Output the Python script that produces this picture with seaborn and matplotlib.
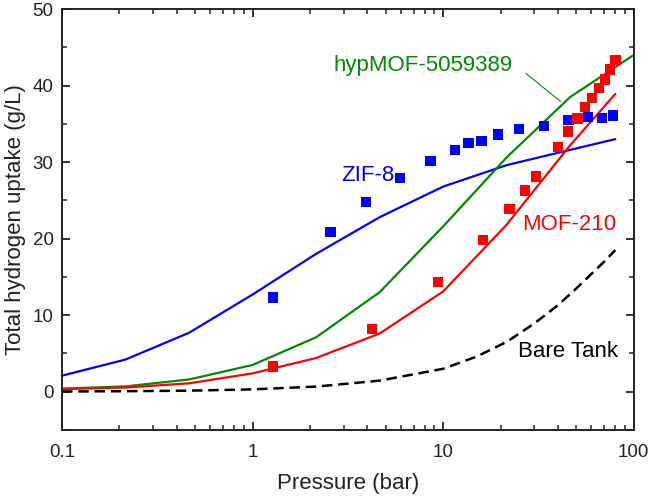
import numpy as np
import pandas as pd
import matplotlib
matplotlib.use("Agg")
import matplotlib.pyplot as plt
import seaborn as sns
from matplotlib.ticker import LogLocator, MultipleLocator, FixedLocator, FixedFormatter

# simulated isotherms (lines)
sim_p = [0.1, 0.215, 0.464, 1, 2.15, 4.64, 10, 21.5, 46.4, 80]
sim_p_hyp = [0.1, 0.215, 0.464, 1, 2.15, 4.64, 10, 21.5, 46.4, 100]
zif8_sim = [2.1, 4.2, 7.7, 12.7, 18.0, 22.8, 26.8, 29.6, 31.6, 33.0]
mof210_sim = [0.35, 0.55, 1.1, 2.4, 4.4, 7.6, 13.1, 21.8, 32.2, 38.9]
hypmof_sim = [0.4, 0.7, 1.6, 3.5, 7.1, 13.0, 21.6, 30.6, 38.5, 44.0]

# bare tank (compressed gas only)
tank_p = [0.1, 0.215, 0.464, 1, 2.15, 4.64, 10, 15, 21.5, 30, 40, 50, 60, 70, 80]
tank_h2 = [0.03, 0.07, 0.14, 0.31, 0.67, 1.45, 3.0, 4.6, 6.5, 8.9, 11.3, 13.5, 15.4, 17.0, 18.5]

# experimental points (squares)
zif8_p = [1.28, 2.56, 3.93, 5.92, 8.57, 11.5, 13.6, 15.9, 19.4, 24.9, 33.8, 45.4, 57.3, 68.1, 77.8]
zif8_h2 = [12.3, 20.9, 24.8, 27.9, 30.1, 31.6, 32.5, 32.8, 33.6, 34.3, 34.7, 35.5, 35.9, 35.8, 36.1]
mof210_p = [1.28, 4.24, 9.4, 16.2, 22.3, 26.8, 30.8, 40.0, 45.2, 50.6, 55.7, 60.6, 65.7, 70.4, 75.3, 80.3]
mof210_h2 = [3.3, 8.2, 14.3, 19.8, 23.9, 26.3, 28.1, 32.0, 34.0, 35.7, 37.2, 38.4, 39.7, 40.8, 42.1, 43.3]

blue = "#0000ff"
red = "#ff0000"
green = "#008a00"

sns.set_style("ticks")
plt.rcParams["font.family"] = ["Liberation Sans", "DejaVu Sans"]

fig = plt.figure(figsize=(6.5, 5.01), dpi=100)
ax = fig.add_axes([0.0954, 0.1417, 0.8796, 0.8403])

sns.lineplot(x=sim_p, y=zif8_sim, color=blue, lw=1.6, ax=ax, sort=False)
sns.lineplot(x=sim_p_hyp, y=hypmof_sim, color=green, lw=1.6, ax=ax, sort=False)
sns.lineplot(x=sim_p, y=mof210_sim, color=red, lw=1.6, ax=ax, sort=False)
ax.plot(tank_p, tank_h2, color="black", lw=1.8, linestyle=(0, (4.2, 2.3)))

sns.scatterplot(x=zif8_p, y=zif8_h2, color=blue, marker="s", s=55,
                edgecolor="none", ax=ax, zorder=3)
sns.scatterplot(x=mof210_p, y=mof210_h2, color=red, marker="s", s=55,
                edgecolor="none", ax=ax, zorder=3)

ax.set_xscale("log")
ax.set_xlim(0.1, 100)
ax.set_ylim(-5, 50)

ax.xaxis.set_major_locator(FixedLocator([0.1, 1, 10, 100]))
ax.xaxis.set_major_formatter(FixedFormatter(["0.1", "1", "10", "100"]))
ax.xaxis.set_minor_locator(LogLocator(base=10, subs=np.arange(2, 10)))
ax.xaxis.set_minor_formatter(plt.NullFormatter())
ax.yaxis.set_major_locator(FixedLocator([0, 10, 20, 30, 40, 50]))
ax.yaxis.set_minor_locator(MultipleLocator(5))

ax.tick_params(which="both", direction="in", top=True, right=True,
               color="#222222", labelsize=13.5, labelcolor="#222222")
ax.tick_params(which="major", length=6, width=1.3)
ax.tick_params(axis="x", which="major", pad=10)
ax.tick_params(axis="y", which="major", pad=6)
ax.tick_params(which="minor", length=3.5, width=1.1)
for sp in ax.spines.values():
    sp.set_linewidth(1.4)
    sp.set_color("#222222")

ax.set_xlabel("Pressure (bar)", fontsize=16, color="#222222", labelpad=9)
ax.set_ylabel("Total hydrogen uptake (g/L)", fontsize=16, color="#222222", labelpad=5)

ax.text(7.8, 42.6, "hypMOF-5059389", color=green, fontsize=16, ha="center", va="center")
ax.annotate("", xy=(42.4, 37.7), xytext=(26.5, 41.8),
            arrowprops=dict(arrowstyle="-", color=green, lw=0.8))
ax.text(4.03, 28.2, "ZIF-8", color=blue, fontsize=16, ha="center", va="center")
ax.text(46.1, 21.9, "MOF-210", color=red, fontsize=16, ha="center", va="center")
ax.text(45, 5.2, "Bare Tank", color="black", fontsize=16, ha="center", va="center")

fig.savefig("out.png", dpi=100)
